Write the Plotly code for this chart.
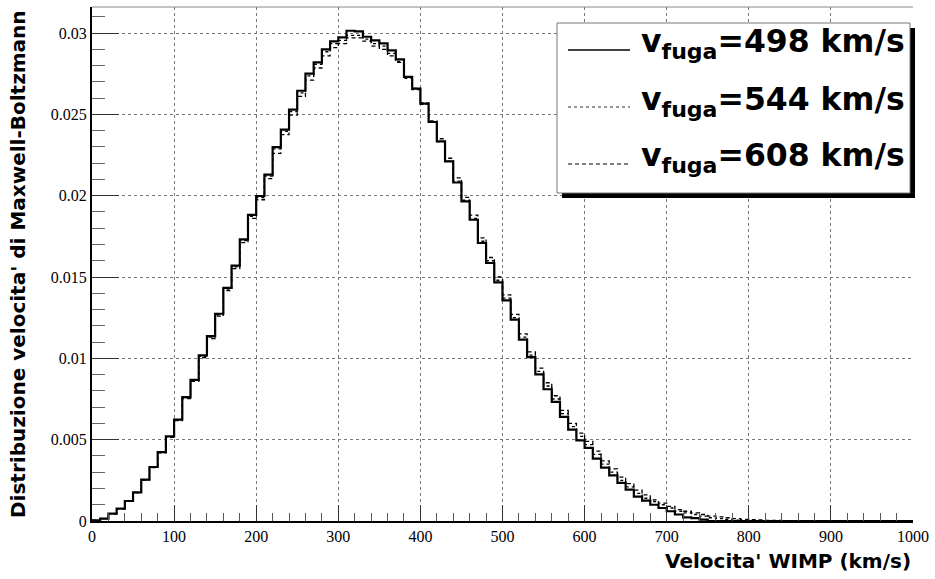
import numpy as np
import plotly.graph_objects as go

# ---------------- data ----------------
bin_width = 10
v_min, v_max = 0, 1000
n_bins = 100

# Maxwell-Boltzmann speed distribution (per 10 km/s bin)
dist_498 = [
    0.00004, 0.00014, 0.00045, 0.00076, 0.00123, 0.00176, 0.00254, 0.00332, 0.00424, 0.00520,
    0.00624, 0.00762, 0.00868, 0.01018, 0.01136, 0.01274, 0.01433, 0.01570, 0.01732, 0.01882,
    0.01998, 0.02130, 0.02299, 0.02406, 0.02529, 0.02645, 0.02750, 0.02820, 0.02900, 0.02949,
    0.02973, 0.03014, 0.03010, 0.02977, 0.02955, 0.02936, 0.02893, 0.02838, 0.02730, 0.02658,
    0.02566, 0.02453, 0.02334, 0.02211, 0.02081, 0.01965, 0.01852, 0.01709, 0.01586, 0.01467,
    0.01356, 0.01238, 0.01115, 0.01008, 0.00902, 0.00810, 0.00732, 0.00640, 0.00562, 0.00496,
    0.00449, 0.00383, 0.00328, 0.00280, 0.00234, 0.00193, 0.00150, 0.00125, 0.00100, 0.00080,
    0.00060, 0.00040, 0.00022, 0.00018, 0.00008,
]
dist_544 = [
    0.00004, 0.00014, 0.00045, 0.00076, 0.00122, 0.00175, 0.00253, 0.00330, 0.00422, 0.00517,
    0.00621, 0.00758, 0.00864, 0.01013, 0.01130, 0.01268, 0.01426, 0.01562, 0.01724, 0.01873,
    0.01988, 0.02120, 0.02288, 0.02395, 0.02517, 0.02632, 0.02737, 0.02808, 0.02885, 0.02935,
    0.02955, 0.02985, 0.02985, 0.02962, 0.02935, 0.02920, 0.02875, 0.02825, 0.02722, 0.02652,
    0.02562, 0.02452, 0.02332, 0.02212, 0.02090, 0.01972, 0.01860, 0.01720, 0.01600, 0.01480,
    0.01370, 0.01250, 0.01130, 0.01020, 0.00920, 0.00830, 0.00750, 0.00660, 0.00580, 0.00520,
    0.00470, 0.00410, 0.00350, 0.00300, 0.00250, 0.00210, 0.00170, 0.00140, 0.00120, 0.00100,
    0.00080, 0.00060, 0.00050, 0.00040, 0.00030, 0.00020, 0.00015, 0.00010, 0.00005,
]
dist_608 = [
    0.00004, 0.00014, 0.00044, 0.00075, 0.00121, 0.00174, 0.00251, 0.00328, 0.00419, 0.00514,
    0.00617, 0.00753, 0.00858, 0.01005, 0.01122, 0.01259, 0.01416, 0.01551, 0.01712, 0.01860,
    0.01975, 0.02105, 0.02260, 0.02375, 0.02495, 0.02610, 0.02710, 0.02785, 0.02860, 0.02910,
    0.02935, 0.02970, 0.02970, 0.02950, 0.02920, 0.02900, 0.02860, 0.02820, 0.02730, 0.02660,
    0.02570, 0.02460, 0.02350, 0.02230, 0.02110, 0.01990, 0.01880, 0.01740, 0.01620, 0.01500,
    0.01390, 0.01270, 0.01150, 0.01040, 0.00940, 0.00850, 0.00770, 0.00680, 0.00600, 0.00540,
    0.00490, 0.00430, 0.00370, 0.00320, 0.00270, 0.00230, 0.00190, 0.00160, 0.00130, 0.00110,
    0.00090, 0.00070, 0.00060, 0.00050, 0.00040, 0.00030, 0.00025, 0.00020, 0.00015, 0.00010,
    0.00008, 0.00006, 0.00004, 0.00003, 0.00002,
]
series_labels = [
    "v<sub>fuga</sub>=498 km/s",
    "v<sub>fuga</sub>=544 km/s",
    "v<sub>fuga</sub>=608 km/s",
]

x_tick_vals = [0, 100, 200, 300, 400, 500, 600, 700, 800, 900, 1000]
x_tick_labels = ["0", "100", "200", "300", "400", "500", "600", "700", "800", "900", "1000"]
y_tick_vals = [0, 0.005, 0.01, 0.015, 0.02, 0.025, 0.03]
y_tick_labels = ["0", "0.005", "0.01", "0.015", "0.02", "0.025", "0.03"]

x_title = "Velocita' WIMP (km/s)"
y_title = "Distribuzione velocita' di Maxwell-Boltzmann"

# ---------------- figure ----------------
edges = np.arange(v_min, v_max + bin_width, bin_width)


def step_values(vals):
    full = list(vals) + [0.0] * (n_bins - len(vals))
    return full + [full[-1]]


hist_styles = [
    dict(color="black", width=2.2, dash="solid"),
    dict(color="black", width=1.3, dash="dot"),
    dict(color="black", width=1.3, dash="4px,3px"),
]
legend_styles = [
    dict(color="black", width=1.6, dash="solid"),
    dict(color="#333333", width=1.0, dash="dot"),
    dict(color="black", width=1.0, dash="4px,3px"),
]
all_series = [dist_498, dist_544, dist_608]

fig = go.Figure()
for idx in [2, 1, 0]:
    fig.add_trace(go.Scatter(
        x=edges, y=step_values(all_series[idx]), mode="lines",
        line=dict(shape="hv", **hist_styles[idx]),
        name=series_labels[idx], showlegend=False, hoverinfo="skip",
    ))

L, R, T, B = 92, 22, 7, 58
W, H = 935, 579
pw, ph = W - L - R, H - T - B


def px_x(p):
    return (p - L) / pw


def px_y(p):
    return (H - B - p) / ph


serif = "Liberation Serif, Times New Roman, serif"
sans = "DejaVu Sans, Arial, sans-serif"

# legend box (drawn by hand to mimic the ROOT TLegend with its shadow)
box_l, box_r, box_t, box_b = 557, 910, 23, 193
shadow = 5
row_y = [50, 107, 164]          # sample-line heights (px from top)
text_y = [44, 101, 158]
shapes = [
    dict(type="line", xref="paper", yref="paper", x0=0, x1=1, y0=1, y1=1,
         line=dict(color="#888888", width=1), layer="above"),
    dict(type="rect", xref="paper", yref="paper",
         x0=px_x(box_l + shadow), x1=px_x(box_r + shadow),
         y0=px_y(box_b + shadow), y1=px_y(box_t + shadow),
         fillcolor="black", line=dict(width=0), layer="above"),
    dict(type="rect", xref="paper", yref="paper",
         x0=px_x(box_l), x1=px_x(box_r), y0=px_y(box_b), y1=px_y(box_t),
         fillcolor="white", line=dict(color="#777777", width=1), layer="above"),
]
annotations = []
for i in range(3):
    shapes.append(dict(type="line", xref="paper", yref="paper",
                       x0=px_x(568), x1=px_x(630), y0=px_y(row_y[i]), y1=px_y(row_y[i]),
                       line=legend_styles[i], layer="above"))
    annotations.append(dict(text="<b>" + series_labels[i] + "</b>", xref="paper", yref="paper",
                            x=px_x(639), y=px_y(text_y[i]), xanchor="left", yanchor="middle",
                            showarrow=False,
                            font=dict(family=sans, size=31.5, color="black")))

annotations += [
    dict(text="<b>" + y_title + "</b>", xref="paper", yref="paper", x=0, y=0.5,
         xanchor="center", yanchor="middle", xshift=-(L - 18), textangle=-90,
         showarrow=False, font=dict(family=sans, size=20, color="black")),
    dict(text="<b>" + x_title + "</b>", xref="paper", yref="paper", x=1, y=0,
         xanchor="right", yanchor="middle", yshift=-40,
         showarrow=False, font=dict(family=sans, size=20, color="black")),
]

fig.update_layout(
    width=W, height=H,
    margin=dict(l=L, r=R, t=T, b=B, pad=0),
    paper_bgcolor="white", plot_bgcolor="white",
    showlegend=False,
    xaxis=dict(
        range=[v_min, v_max], tickmode="array", tickvals=x_tick_vals, ticktext=x_tick_labels,
        ticks="inside", ticklen=16, tickwidth=1, tickcolor="#333333",
        showgrid=True, gridcolor="#777777", griddash="dot", gridwidth=1,
        showline=True, linecolor="black", linewidth=2, zeroline=False,
        tickfont=dict(family=serif, size=16, color="black"),
        minor=dict(tickmode="linear", tick0=0, dtick=20, ticks="inside", ticklen=8,
                   tickcolor="#555555", tickwidth=1, showgrid=False),
    ),
    yaxis=dict(
        range=[0, 0.0316], tickmode="array", tickvals=y_tick_vals, ticktext=y_tick_labels,
        ticks="inside", ticklen=27, tickwidth=1, tickcolor="#333333",
        showgrid=True, gridcolor="#777777", griddash="dot", gridwidth=1,
        showline=True, linecolor="black", linewidth=2, zeroline=False,
        tickfont=dict(family=serif, size=16, color="black"),
        minor=dict(tickmode="linear", tick0=0, dtick=0.001, ticks="inside", ticklen=13,
                   tickcolor="#666666", tickwidth=1, showgrid=False),
    ),
    shapes=shapes,
    annotations=annotations,
)

fig.write_html("out.html")
